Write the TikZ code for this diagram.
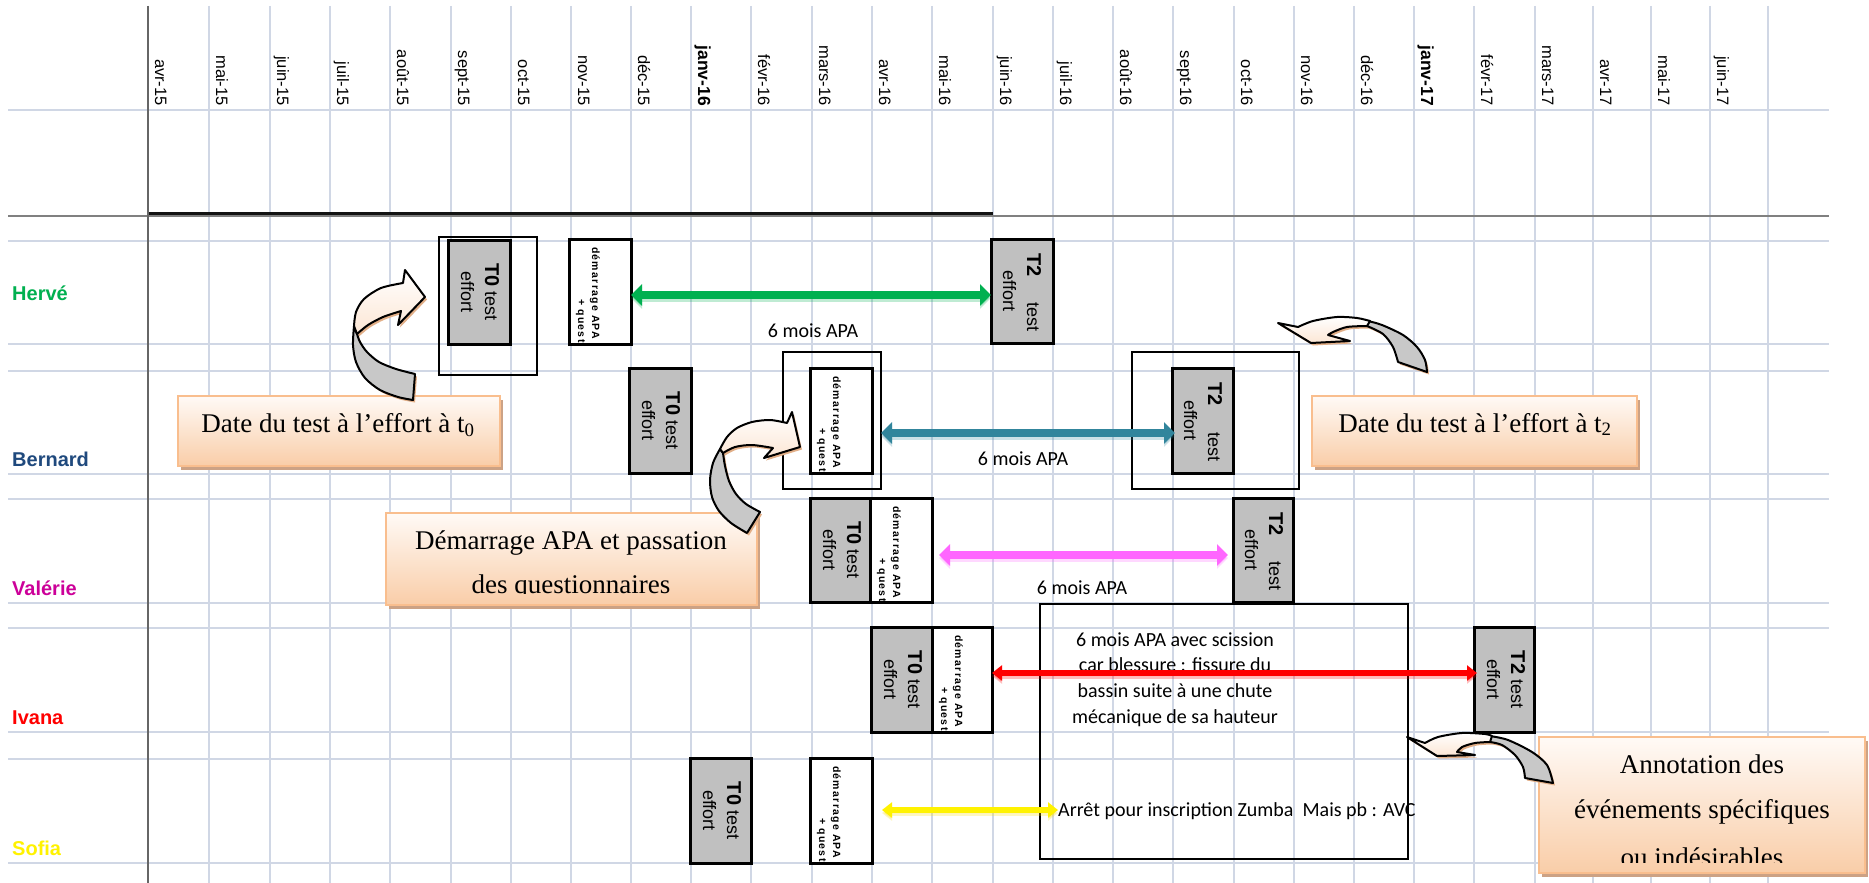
\documentclass[tikz,border=0pt]{standalone}
\usepackage{fontspec}
\setmainfont{Liberation Serif}
\newfontfamily\arialf{Liberation Sans}
\newfontfamily\calf{Carlito}
\newfontfamily\tinyf[LetterSpace=12]{Liberation Sans}
\usetikzlibrary{arrows.meta,calc}

\definecolor{gridc}{HTML}{D0D7E5}
\definecolor{boxgray}{HTML}{C0C0C0}
\definecolor{calloutborder}{HTML}{F9BE8E}
\definecolor{calloutbot}{HTML}{F9CDA8}
\definecolor{callouttop}{HTML}{FFFAF6}
\definecolor{calloutshadow}{HTML}{CCA285}
\definecolor{herve}{HTML}{00B050}
\definecolor{bernard}{HTML}{1F497D}
\definecolor{valerie}{HTML}{CC0099}
\definecolor{tealarrow}{HTML}{31859C}
\definecolor{pinkarrow}{HTML}{FF66FF}
\definecolor{curvegray}{HTML}{C8C8C8}
\definecolor{curveshadow}{HTML}{E2AF88}
\definecolor{curvepeach}{HTML}{FCE6D4}

\newcommand\TzeroBox[6]{%
  \node[tzero, minimum width={(#4-#2)*1pt}, minimum height={(#5-#3)*1pt}] (#1) at (#2,#3) {};
  \node[boxtxt, anchor=base] (#1-l1) at ([xshift=37pt]#1.west) {{\fontsize{20}{24}\selectfont\bfseries #6}\ test};
  \node[boxtxt, anchor=base] (#1-l2) at ([xshift=13pt]#1.west) {effort};
}
\newcommand\TdeuxBox[5]{%
  \node[tzero, minimum width={(#4-#2)*1pt}, minimum height={(#5-#3)*1pt}] (#1) at (#2,#3) {};
  \node[boxtxt, anchor=base west] (#1-l1) at ([xshift=36pt,yshift=-14pt]#1.north west) {\fontsize{20}{24}\selectfont\bfseries T2};
  \node[boxtxt, anchor=base east] (#1-l3) at ([xshift=36pt,yshift=11pt]#1.south west) {test};
  \node[boxtxt, anchor=base] (#1-l2) at ([xshift=12pt]#1.west) {effort};
}
\newcommand\DemBox[5]{%
  \node[demar, minimum width={(#4-#2)*1pt}, minimum height={(#5-#3)*1pt}] (#1) at (#2,#3) {};
  \begin{scope}
    \clip (#2+1.5,#3+1.5) rectangle (#4-1.5,#5-1.5);
    \node[dtxt] (#1-l1) at ([xshift=23pt,yshift=-8pt]#1.north west) {démarrage APA};
    \node[dtxt] (#1-l2) at ([xshift=9pt,yshift=-60pt]#1.north west) {+ quest.};
  \end{scope}
}
\newcommand\CalloutBox[5]{%
  \fill[calloutshadow] (#2+3,#3+4) rectangle (#4+3,#5+4);
  \node[calloutbox, minimum width={(#4-#2)*1pt}, minimum height={(#5-#3)*1pt}] (#1) at (#2,#3) {};
}

% curved arrows
\def\grayA{plot[smooth] coordinates {(354,326) (353,345) (356,362) (365,378) (380,390) (398,397) (413,400)} -- (415,374) -- plot[smooth] coordinates {(415,374) (396,369) (379,362) (367,352) (360,342) (357,334)} -- cycle}
\def\whiteA{plot[smooth] coordinates {(357,334) (368,325) (383,317) (401,311)} -- (398,325) -- (425,297) -- (405,270) -- (403,283) -- plot[smooth] coordinates {(403,283) (381,288) (364,299) (356,312) (354,326)} -- cycle}
\def\grayB{plot[smooth] coordinates {(720,449) (713,463) (710,480) (712,497) (719,511) (731,523) (747,533)} -- (760,512) -- plot[smooth] coordinates {(760,512) (746,504) (736,494) (729,481) (725,466) (723,453)} -- cycle}
\def\whiteB{plot[smooth] coordinates {(723,453) (735,447) (752,445) (773,448)} -- (764,458) -- (800,447) -- (792,412) -- (787,423) -- plot[smooth] coordinates {(787,423) (770,420) (752,422) (737,428) (727,437) (720,449)} -- cycle}
\def\grayC{plot[smooth] coordinates {(1368,321) (1382,325) (1403,335) (1417,347) (1425,360) (1427,372)} -- (1398,362) -- plot[smooth] coordinates {(1398,362) (1393,347) (1383,334) (1367,326)} -- cycle}
\def\whiteC{(1278,323) -- (1298,327) -- plot[smooth] coordinates {(1298,327) (1313,321) (1337,317) (1357,318) (1370,321)} -- (1367,326) -- plot[smooth] coordinates {(1367,326) (1347,327) (1333,332) (1328,335)} -- (1350,341) -- (1311,343) -- cycle}
\def\grayD{plot[smooth] coordinates {(1490,736) (1508,740) (1532,752) (1547,765) (1553,783)} -- (1525,778) -- plot[smooth] coordinates {(1525,778) (1523,767) (1515,755) (1502,745) (1490,742)} -- cycle}
\def\whiteD{(1407,737) -- (1425,743) -- plot[smooth] coordinates {(1425,743) (1438,737) (1462,733) (1485,734) (1492,736)} -- (1490,742) -- plot[smooth] coordinates {(1490,742) (1475,743) (1462,747) (1457,752)} -- (1475,755) -- (1437,756) -- cycle}

\begin{document}
\begin{tikzpicture}[x=1pt,y=-1pt,
  gridline/.style={draw=gridc,line width=2pt},
  tzero/.style={draw=black,line width=3pt,fill=boxgray,anchor=north west,inner sep=0pt,outer sep=0pt},
  demar/.style={draw=black,line width=3pt,fill=white,anchor=north west,inner sep=0pt,outer sep=0pt},
  thinframe/.style={draw=black,line width=1.6pt,anchor=north west,inner sep=0pt,outer sep=0pt},
  monthlbl/.style={rotate=-90,anchor=base east,inner sep=0pt,font=\arialf\fontsize{16.5}{19}\selectfont},
  namelbl/.style={anchor=base west,inner sep=0pt,font=\arialf\bfseries\fontsize{20}{24}\selectfont},
  boxtxt/.style={rotate=-90,inner sep=0pt,font=\arialf\fontsize{18}{21}\selectfont},
  dtxt/.style={rotate=-90,inner sep=0pt,anchor=base west,font=\tinyf\bfseries\fontsize{10.5}{12}\selectfont},
  apatxt/.style={anchor=base,inner sep=0pt,font=\calf\fontsize{20}{24}\selectfont},
  ctxt/.style={anchor=base,inner sep=0pt,font=\fontsize{27}{32}\selectfont},
  calloutbox/.style={draw=calloutborder,line width=2.5pt,top color=callouttop,bottom color=calloutbot,anchor=north west,inner sep=0pt,outer sep=0pt},
  bigspan/.style={line width=8.5pt,arrows={Triangle[length=11pt,width=21pt]-Triangle[length=11pt,width=21pt]}},
  smallspan/.style={line width=6.5pt,arrows={Triangle[length=10pt,width=15pt]-Triangle[length=10pt,width=15pt]}},
  glow/.style={opacity=0.25,shift={(1.5,3)}},
  curveline/.style={draw=black,line width=2pt,line join=round},
]
\useasboundingbox (0,0) rectangle (1869,883);
\fill[white] (0,0) rectangle (1869,883);

% grid
\foreach \x in {209,270,330,390,451,511,571,631,691,751,812,872,932,993,1053,1113,1173,1234,1294,1354,1414,1474,1535,1593,1651,1710,1768}
  \draw[gridline] (\x,6) -- (\x,883);
\foreach \y in {110,241,344,371,474,499,603,628,732,759,863}
  \draw[gridline] (8,\y) -- (1829,\y);
\draw[draw=gray,line width=2.2pt] (8,216) -- (1829,216);
\draw[draw=black!85!gray,line width=3pt] (148,213) -- (993,213);
\draw[draw=black!60,line width=2pt] (148,6) -- (148,883);

% month labels
\foreach \x/\m in {148/avr-15,209/mai-15,270/juin-15,330/juil-15,390/août-15,451/sept-15,511/oct-15,571/nov-15,631/déc-15,751/févr-16,812/mars-16,872/avr-16,932/mai-16,993/juin-16,1053/juil-16,1113/août-16,1173/sept-16,1234/oct-16,1294/nov-16,1354/déc-16,1474/févr-17,1535/mars-17,1593/avr-17,1651/mai-17,1710/juin-17}
  \node[monthlbl] (m\x) at (\x+7,106) {\m};
\foreach \x/\m in {691/janv-16,1414/janv-17}
  \node[monthlbl,font=\arialf\bfseries\fontsize{17.5}{20}\selectfont] (m\x) at (\x+7,106) {\m};

% names
\node[namelbl,text=herve] (nHerve) at (12,300) {Hervé};
\node[namelbl,text=bernard] (nBernard) at (12,466) {Bernard};
\node[namelbl,text=valerie] (nValerie) at (12,595) {Valérie};
\node[namelbl,text=red] (nIvana) at (12,724) {Ivana};
\node[namelbl,text=yellow] (nSofia) at (12,855) {Sofia};

% thin frames
\node[thinframe,minimum width=98pt,minimum height=138pt] (frA) at (439,237) {};
\node[thinframe,minimum width=98pt,minimum height=137pt] (frB) at (783,352) {};
\node[thinframe,minimum width=167pt,minimum height=137pt] (frC) at (1132,352) {};
\node[thinframe,minimum width=368pt,minimum height=255pt] (annot) at (1040,604) {};

% boxes
\TzeroBox{t0A}{448}{240}{510}{344}{T0}
\DemBox{demA}{569}{239}{631}{344}
\TdeuxBox{t2A}{991}{239}{1053}{343}

\TzeroBox{t0B}{629}{368}{691}{473}{T0}
\DemBox{demB}{810}{368}{872}{473}
\TdeuxBox{t2B}{1172}{368}{1233}{473}

\TzeroBox{t0C}{810}{498}{870}{602}{T0}
\DemBox{demC}{870}{498}{932}{602}
\TdeuxBox{t2C}{1233}{498}{1293}{602}

\TzeroBox{t0D}{871}{627}{932}{732}{T0}
\DemBox{demD}{932}{627}{992}{732}
\TzeroBox{t2D}{1474}{627}{1534}{732}{T2}

\TzeroBox{t0E}{690}{758}{751}{863}{T0}
\DemBox{demE}{810}{758}{872}{863}

% period labels
\node[apatxt] (apaA) at (813,337) {6 mois APA};
\node[apatxt] (apaB) at (1023,465) {6 mois APA};
\node[apatxt] (apaC) at (1082,594) {6 mois APA};

% annotation texts
\node[apatxt] (ann1) at (1175,646) {6 mois APA avec scission};
\node[apatxt] (ann2) at (1175,671.5) {car blessure : fissure du};
\node[apatxt] (ann3) at (1175,697) {bassin suite à une chute};
\node[apatxt] (ann4) at (1175,723) {mécanique de sa hauteur};
\node[apatxt,anchor=base west] (arret) at (1058,816) {Arrêt pour inscription Zumba\ \ Mais pb : AVC};

% straight arrows (soft shadow, then arrow)
\draw[bigspan,draw=herve,fill=herve,glow] (demA.east |- 0,295) -- (t2A.west |- 0,295);
\draw[bigspan,draw=herve,fill=herve] (demA.east |- 0,295) -- (t2A.west |- 0,295);
\draw[bigspan,draw=tealarrow,fill=tealarrow,glow] (frB.east |- 0,433) -- ([xshift=3pt]t2B.west |- 0,433);
\draw[bigspan,draw=tealarrow,fill=tealarrow] (frB.east |- 0,433) -- ([xshift=3pt]t2B.west |- 0,433);
\draw[bigspan,draw=pinkarrow,fill=pinkarrow,glow] ([xshift=7pt]demC.east |- 0,555) -- ([xshift=-5pt]t2C.west |- 0,555);
\draw[bigspan,draw=pinkarrow,fill=pinkarrow] ([xshift=7pt]demC.east |- 0,555) -- ([xshift=-5pt]t2C.west |- 0,555);
\draw[smallspan,draw=red,fill=red,glow] (demD.east |- 0,673) -- ([xshift=3pt]t2D.west |- 0,673);
\draw[smallspan,draw=red,fill=red] (demD.east |- 0,673) -- ([xshift=3pt]t2D.west |- 0,673);
\draw[smallspan,draw=yellow!80!orange,fill=yellow!80!orange,glow] ([xshift=10pt]demE.east |- 0,810) -- (arret.west |- 0,810);
\draw[smallspan,draw=yellow,fill=yellow] ([xshift=10pt]demE.east |- 0,810) -- (arret.west |- 0,810);

% callouts
\CalloutBox{cA}{178}{396}{500}{466}
\node[ctxt] (cAt) at (338,432) {Date du test à l’effort à t\textsubscript{0}};
\CalloutBox{cB}{1312}{396}{1637}{466}
\node[ctxt] (cBt) at (1475,432) {Date du test à l’effort à t\textsubscript{2}};
\CalloutBox{cC}{386}{513}{757}{605}
\begin{scope}
  \clip (386,513) rectangle (757,593);
  \node[ctxt] (cCt1) at (571,549) {Démarrage APA et passation};
  \node[ctxt] (cCt2) at (571,593) {des questionnaires};
\end{scope}
\CalloutBox{cD}{1539}{737}{1865}{873}
\begin{scope}
  \clip (1539,737) rectangle (1865,862);
  \node[ctxt] (cDt1) at (1702,773) {Annotation des};
  \node[ctxt] (cDt2) at (1702,818.5) {événements spécifiques};
  \node[ctxt] (cDt3) at (1702,866) {ou indésirables};
\end{scope}

% curved arrows
\begin{scope}[shift={(2,2.5)}]
  \fill[curveshadow] \grayA; \fill[curveshadow] \whiteA;
  \fill[curveshadow] \grayB; \fill[curveshadow] \whiteB;
  \fill[curveshadow] \grayC; \fill[curveshadow] \whiteC;
  \fill[curveshadow] \grayD; \fill[curveshadow] \whiteD;
\end{scope}
\filldraw[curveline,fill=curvegray] \grayA;
\path[curveline,top color=white,bottom color=curvepeach] \whiteA;
\filldraw[curveline,fill=curvegray] \grayB;
\path[curveline,top color=white,bottom color=curvepeach] \whiteB;
\filldraw[curveline,fill=curvegray] \grayC;
\path[curveline,top color=white,bottom color=curvepeach] \whiteC;
\filldraw[curveline,fill=curvegray] \grayD;
\path[curveline,top color=white,bottom color=curvepeach] \whiteD;
\end{tikzpicture}
\end{document}
